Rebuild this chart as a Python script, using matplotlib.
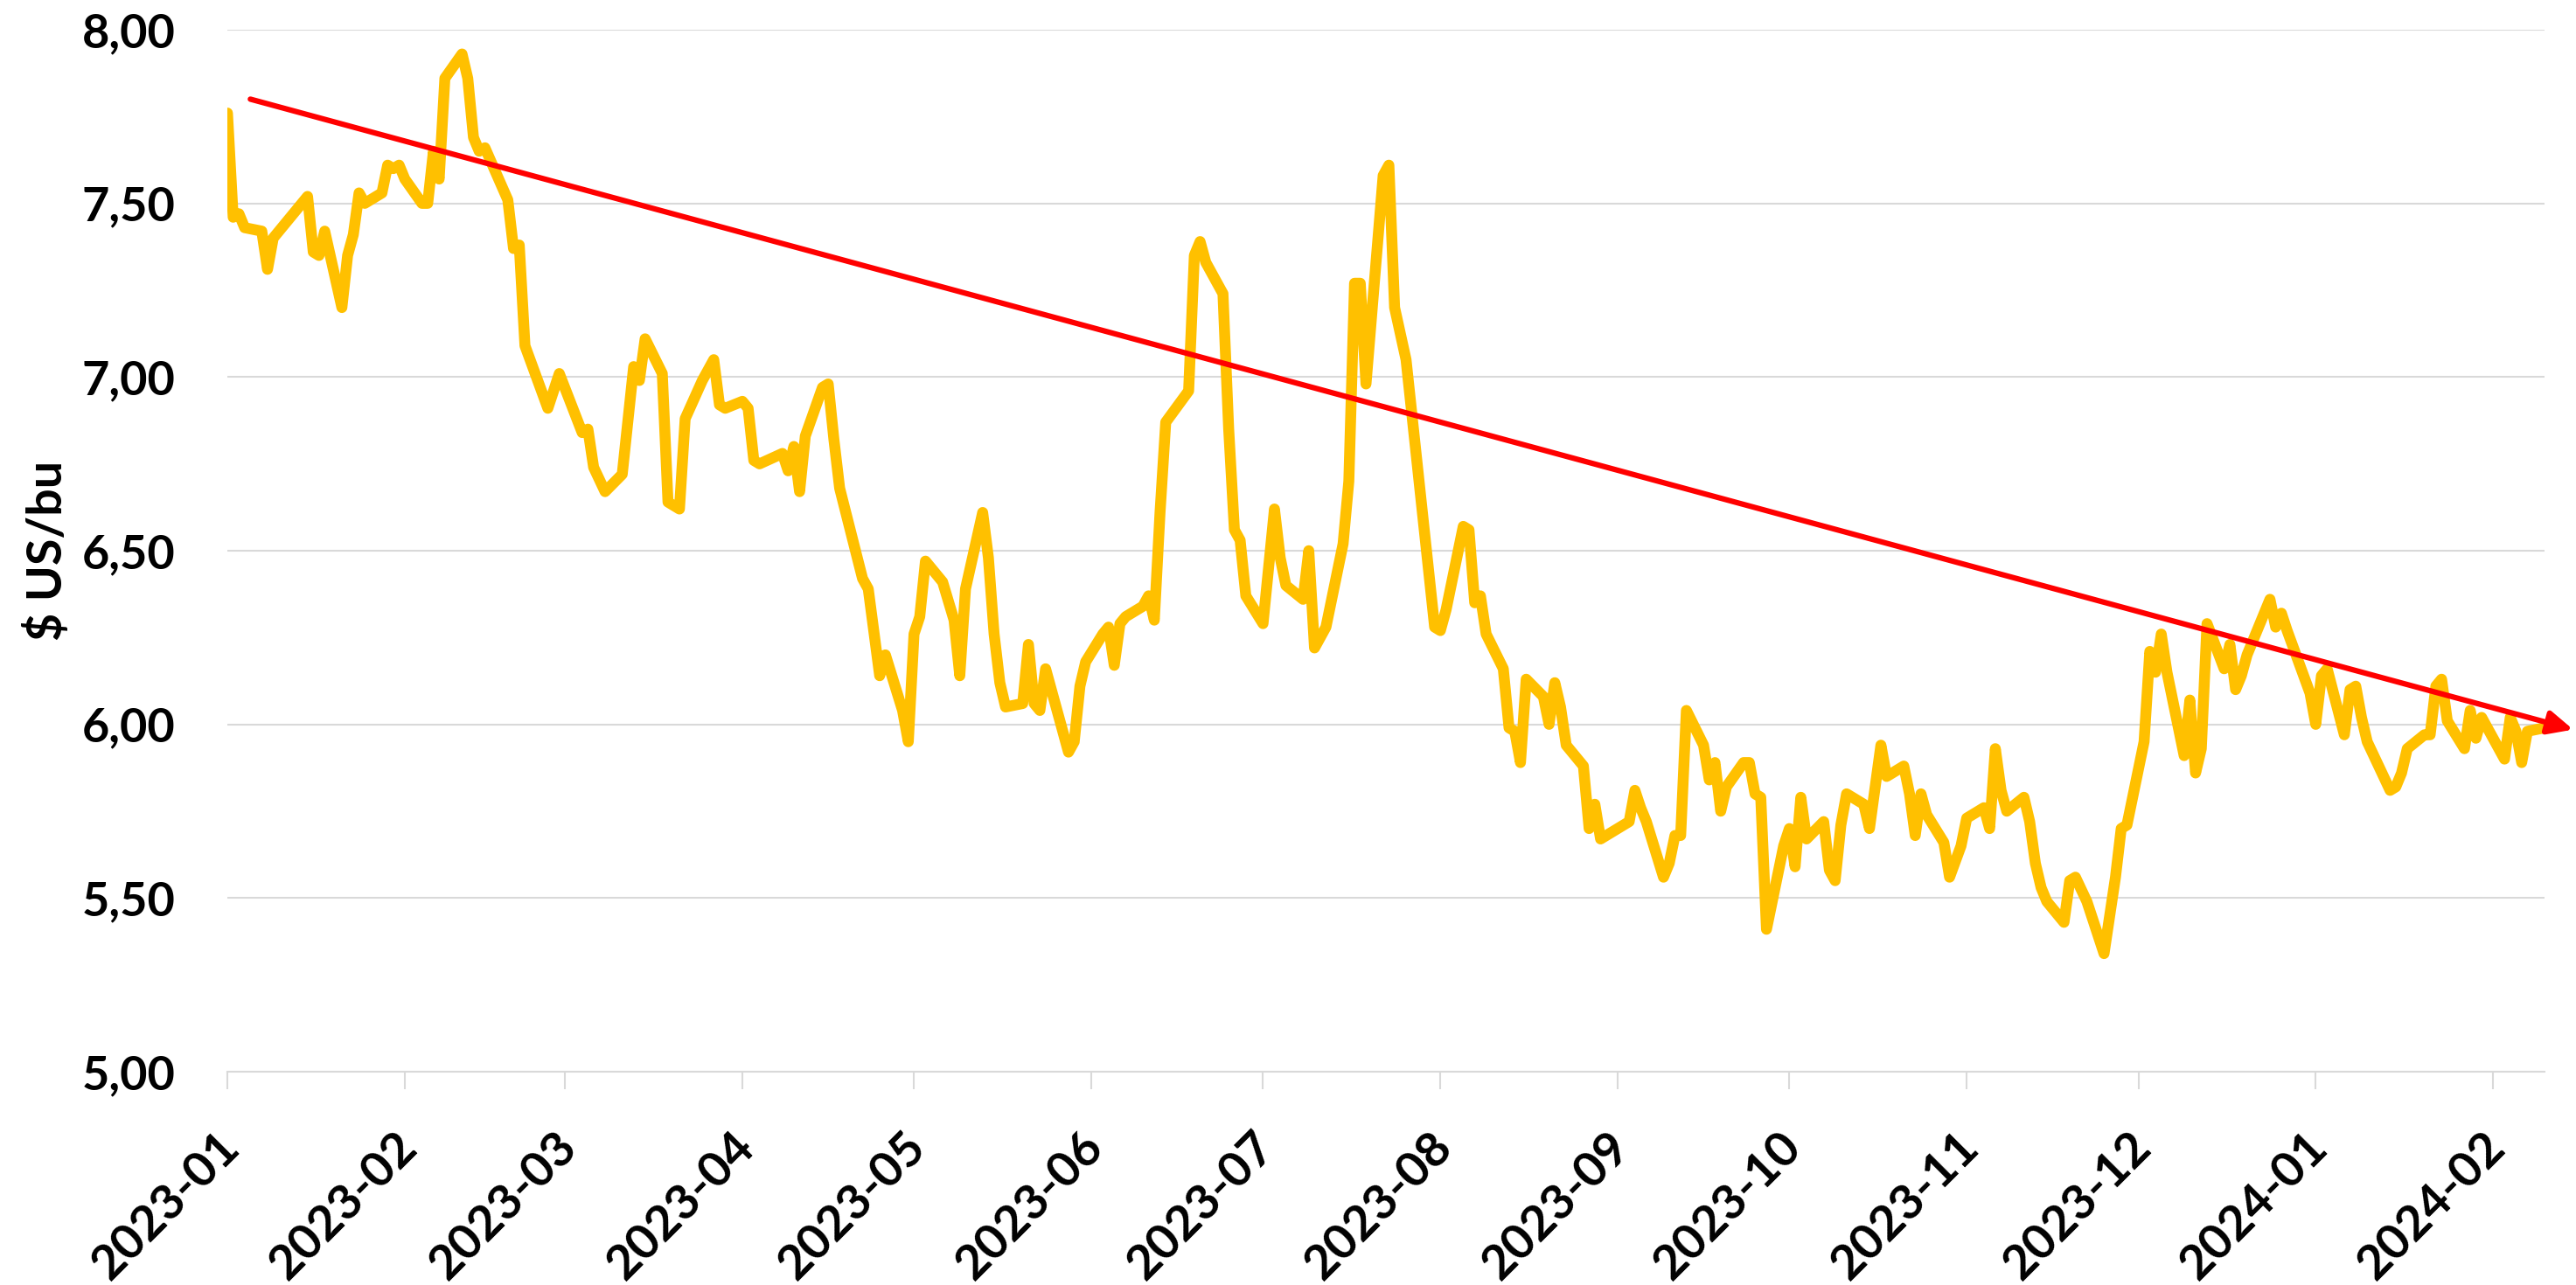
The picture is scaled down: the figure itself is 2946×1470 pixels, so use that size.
import matplotlib
matplotlib.use('Agg')
import matplotlib.pyplot as plt
import matplotlib.dates as mdates
from matplotlib.ticker import FuncFormatter
from matplotlib.transforms import ScaledTranslation
import pandas as pd

# daily price, $ US/bu
dates = [
    # 2023-01
    '2023-01-03', '2023-01-04', '2023-01-05', '2023-01-06', '2023-01-09', '2023-01-10',
    '2023-01-11', '2023-01-12', '2023-01-13', '2023-01-17', '2023-01-18', '2023-01-19',
    '2023-01-20', '2023-01-23', '2023-01-24', '2023-01-25', '2023-01-26', '2023-01-27',
    '2023-01-30', '2023-01-31',
    # 2023-02
    '2023-02-01', '2023-02-02', '2023-02-03', '2023-02-06', '2023-02-07', '2023-02-08',
    '2023-02-09', '2023-02-10', '2023-02-13', '2023-02-14', '2023-02-15', '2023-02-16',
    '2023-02-17', '2023-02-21', '2023-02-22', '2023-02-23', '2023-02-24', '2023-02-28',
    # 2023-03
    '2023-03-02', '2023-03-06', '2023-03-07', '2023-03-08', '2023-03-10', '2023-03-13',
    '2023-03-15', '2023-03-16', '2023-03-17', '2023-03-20', '2023-03-21', '2023-03-22',
    '2023-03-23', '2023-03-24', '2023-03-27', '2023-03-29', '2023-03-30', '2023-03-31',
    # 2023-04
    '2023-04-03', '2023-04-04', '2023-04-05', '2023-04-06', '2023-04-10', '2023-04-11',
    '2023-04-12', '2023-04-13', '2023-04-14', '2023-04-17', '2023-04-18', '2023-04-19',
    '2023-04-20', '2023-04-24', '2023-04-25', '2023-04-27', '2023-04-28',
    # 2023-05
    '2023-05-01', '2023-05-02', '2023-05-03', '2023-05-04', '2023-05-05', '2023-05-08',
    '2023-05-10', '2023-05-11', '2023-05-12', '2023-05-15', '2023-05-16', '2023-05-17',
    '2023-05-18', '2023-05-19', '2023-05-22', '2023-05-23', '2023-05-24', '2023-05-25',
    '2023-05-26', '2023-05-30', '2023-05-31',
    # 2023-06
    '2023-06-01', '2023-06-02', '2023-06-05', '2023-06-06', '2023-06-07', '2023-06-08',
    '2023-06-09', '2023-06-12', '2023-06-13', '2023-06-14', '2023-06-15', '2023-06-16',
    '2023-06-20', '2023-06-21', '2023-06-22', '2023-06-23', '2023-06-26', '2023-06-27',
    '2023-06-28', '2023-06-29', '2023-06-30',
    # 2023-07
    '2023-07-03', '2023-07-05', '2023-07-06', '2023-07-07', '2023-07-10', '2023-07-11',
    '2023-07-12', '2023-07-14', '2023-07-17', '2023-07-18', '2023-07-19', '2023-07-20',
    '2023-07-21', '2023-07-24', '2023-07-25', '2023-07-26', '2023-07-28',
    # 2023-08
    '2023-08-02', '2023-08-03', '2023-08-04', '2023-08-07', '2023-08-08', '2023-08-09',
    '2023-08-10', '2023-08-11', '2023-08-14', '2023-08-15', '2023-08-16', '2023-08-17',
    '2023-08-18', '2023-08-21', '2023-08-22', '2023-08-23', '2023-08-24', '2023-08-25',
    '2023-08-28', '2023-08-29', '2023-08-30', '2023-08-31',
    # 2023-09
    '2023-09-05', '2023-09-06', '2023-09-07', '2023-09-08', '2023-09-11', '2023-09-12',
    '2023-09-13', '2023-09-14', '2023-09-15', '2023-09-18', '2023-09-19', '2023-09-20',
    '2023-09-21', '2023-09-22', '2023-09-25', '2023-09-26', '2023-09-27', '2023-09-28',
    '2023-09-29',
    # 2023-10
    '2023-10-02', '2023-10-03', '2023-10-04', '2023-10-05', '2023-10-06', '2023-10-09',
    '2023-10-10', '2023-10-11', '2023-10-12', '2023-10-13', '2023-10-16', '2023-10-17',
    '2023-10-19', '2023-10-20', '2023-10-23', '2023-10-24', '2023-10-25', '2023-10-26',
    '2023-10-27', '2023-10-30', '2023-10-31',
    # 2023-11
    '2023-11-02', '2023-11-03', '2023-11-06', '2023-11-07', '2023-11-08', '2023-11-09',
    '2023-11-10', '2023-11-13', '2023-11-14', '2023-11-15', '2023-11-16', '2023-11-17',
    '2023-11-20', '2023-11-21', '2023-11-22', '2023-11-24', '2023-11-27', '2023-11-28',
    '2023-11-29', '2023-11-30',
    # 2023-12
    '2023-12-01', '2023-12-04', '2023-12-05', '2023-12-06', '2023-12-07', '2023-12-08',
    '2023-12-11', '2023-12-12', '2023-12-13', '2023-12-14', '2023-12-15', '2023-12-18',
    '2023-12-19', '2023-12-20', '2023-12-21', '2023-12-22', '2023-12-26', '2023-12-27',
    '2023-12-28', '2023-12-29',
    # 2024-01
    '2024-01-02', '2024-01-03', '2024-01-04', '2024-01-05', '2024-01-08', '2024-01-09',
    '2024-01-10', '2024-01-11', '2024-01-12', '2024-01-16', '2024-01-17', '2024-01-18',
    '2024-01-19', '2024-01-22', '2024-01-23', '2024-01-24', '2024-01-25', '2024-01-26',
    '2024-01-29', '2024-01-30', '2024-01-31',
    # 2024-02
    '2024-02-01', '2024-02-02', '2024-02-05', '2024-02-06', '2024-02-07', '2024-02-08',
    '2024-02-09', '2024-02-12',
]

prices = [
    # 2023-01
    7.76, 7.46, 7.47, 7.43, 7.42, 7.31, 7.40, 7.42, 7.44, 7.52, 7.36, 7.35,
    7.42, 7.20, 7.35, 7.41, 7.53, 7.50, 7.53, 7.61,
    # 2023-02
    7.60, 7.61, 7.57, 7.50, 7.50, 7.65, 7.57, 7.86, 7.93, 7.86, 7.69, 7.65,
    7.66, 7.51, 7.37, 7.38, 7.09, 6.91,
    # 2023-03
    7.01, 6.84, 6.85, 6.74, 6.67, 6.72, 7.03, 6.99, 7.11, 7.01, 6.64, 6.63,
    6.62, 6.88, 6.99, 7.05, 6.92, 6.91,
    # 2023-04
    6.93, 6.91, 6.76, 6.75, 6.78, 6.73, 6.80, 6.67, 6.83, 6.97, 6.98, 6.82,
    6.68, 6.42, 6.39, 6.14, 6.20,
    # 2023-05
    6.04, 5.95, 6.26, 6.31, 6.47, 6.41, 6.30, 6.14, 6.39, 6.61, 6.48, 6.26,
    6.12, 6.05, 6.06, 6.23, 6.06, 6.04, 6.16, 5.92, 5.95,
    # 2023-06
    6.11, 6.18, 6.26, 6.28, 6.17, 6.29, 6.31, 6.34, 6.37, 6.30, 6.61, 6.87,
    6.96, 7.35, 7.39, 7.33, 7.24, 6.85, 6.56, 6.53, 6.37,
    # 2023-07
    6.29, 6.62, 6.48, 6.40, 6.36, 6.50, 6.22, 6.28, 6.52, 6.70, 7.27, 7.27,
    6.98, 7.58, 7.61, 7.20, 7.05,
    # 2023-08
    6.28, 6.27, 6.33, 6.57, 6.56, 6.35, 6.37, 6.26, 6.16, 5.99, 5.98, 5.89,
    6.13, 6.08, 6.00, 6.12, 6.05, 5.94, 5.88, 5.70, 5.77, 5.67,
    # 2023-09
    5.72, 5.81, 5.76, 5.72, 5.56, 5.60, 5.68, 5.68, 6.04, 5.94, 5.84, 5.89,
    5.75, 5.82, 5.89, 5.89, 5.80, 5.79, 5.41,
    # 2023-10
    5.65, 5.70, 5.59, 5.79, 5.67, 5.72, 5.58, 5.55, 5.71, 5.80, 5.77, 5.70,
    5.94, 5.85, 5.88, 5.80, 5.68, 5.80, 5.74, 5.66, 5.56,
    # 2023-11
    5.65, 5.73, 5.76, 5.70, 5.93, 5.81, 5.75, 5.79, 5.72, 5.60, 5.53, 5.49,
    5.43, 5.55, 5.56, 5.49, 5.34, 5.45, 5.56, 5.70,
    # 2023-12
    5.71, 5.95, 6.21, 6.15, 6.26, 6.15, 5.91, 6.07, 5.86, 5.93, 6.29, 6.16,
    6.23, 6.10, 6.14, 6.20, 6.36, 6.28, 6.32, 6.27,
    # 2024-01
    6.09, 6.00, 6.14, 6.16, 5.97, 6.10, 6.11, 6.02, 5.95, 5.81, 5.82, 5.86,
    5.93, 5.97, 5.97, 6.11, 6.13, 6.01, 5.93, 6.04, 5.96,
    # 2024-02
    6.02, 5.99, 5.90, 6.02, 5.98, 5.89, 5.98, 5.99,
]

# hand-drawn trend arrow (start / tip)
trend_dates = ['2023-01-07', '2024-02-17']
trend_values = [7.80, 5.985]

y_ticks = [5.0, 5.5, 6.0, 6.5, 7.0, 7.5, 8.0]
x_min, x_max = '2023-01-03', '2024-02-12'
month_ticks = pd.date_range('2023-01-03', '2024-02-03', freq=pd.DateOffset(months=1))

plt.rcParams['font.family'] = ['Lato', 'DejaVu Sans']
plt.rcParams['font.weight'] = 'bold'

fig = plt.figure(figsize=(29.46, 14.70), dpi=100)
ax = fig.add_axes([0.0883, 0.166, 0.8995, 0.8109])

ax.plot(pd.to_datetime(dates), prices, color='#FFC000', lw=9,
        solid_joinstyle='round', solid_capstyle='round', zorder=3)

# red trend arrow
ax.annotate('', xy=(mdates.date2num(pd.Timestamp(trend_dates[1])), trend_values[1]),
            xytext=(mdates.date2num(pd.Timestamp(trend_dates[0])), trend_values[0]),
            arrowprops=dict(arrowstyle='-|>,head_length=17,head_width=8', mutation_scale=1,
                            color='#FF0000', lw=4.5, shrinkA=0, shrinkB=0),
            annotation_clip=False, zorder=4)

ax.set_xlim(mdates.date2num(pd.Timestamp(x_min)), mdates.date2num(pd.Timestamp(x_max)))
ax.set_ylim(5, 8)
ax.set_yticks(y_ticks)
ax.yaxis.set_major_formatter(FuncFormatter(lambda v, _: f'{v:.2f}'.replace('.', ',')))
ax.set_xticks(mdates.date2num(month_ticks))
ax.xaxis.set_major_formatter(mdates.DateFormatter('%Y-%m'))

ax.tick_params(axis='y', length=0, pad=43, labelsize=39)
ax.tick_params(axis='x', length=14.4, width=1.5, color='#D9D9D9', pad=29, labelsize=40)

offset = ScaledTranslation(-0.12, 0, fig.dpi_scale_trans)
for lbl in ax.get_xticklabels():
    lbl.set_rotation(45)
    lbl.set_ha('right')
    lbl.set_va('top')
    lbl.set_rotation_mode('anchor')
    lbl.set_transform(lbl.get_transform() + offset)

ax.grid(axis='y', color='#D9D9D9', lw=1.5)
ax.set_axisbelow(True)
for side in ['top', 'right', 'left']:
    ax.spines[side].set_visible(False)
ax.spines['bottom'].set_color('#D9D9D9')
ax.spines['bottom'].set_linewidth(1.5)

ax.set_ylabel('$ US/bu', fontsize=40, fontweight='bold')
ax.yaxis.set_label_coords(-0.068, 0.5)

fig.savefig('out.png', dpi=100)
